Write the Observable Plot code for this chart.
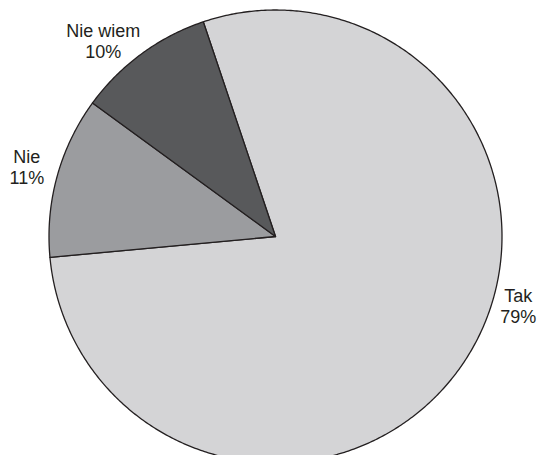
<!DOCTYPE html>
<html>
<head>
<meta charset="utf-8">
<script src="https://cdn.jsdelivr.net/npm/d3@7"></script>
<script src="https://cdn.jsdelivr.net/npm/@observablehq/plot@0.6"></script>
<style>
  html, body { margin: 0; padding: 0; background: #fff; overflow: hidden; }
  #chart svg { display: block; }
</style>
</head>
<body>
<div id="chart"></div>
<script>
// Data
const categories = ["Tak", "Nie", "Nie wiem"];
const values = [78.7, 11.5, 9.8];
const percentLabels = ["79%", "11%", "10%"];

// Style / layout (not data)
const colors = ["#d4d4d6", "#9b9c9f", "#58595b"];
const startDeg = -18.6;
// label centres in polar layout (degrees clockwise from top, radius in pie units)
const labelPolar = [
  {angle: 106.0, r: 1.115},
  {angle: 285.6, r: 1.140},
  {angle: 318.6, r: 1.150}
];

const pie = d3.pie().sort(null).value(d => d.value)
  .startAngle(startDeg * Math.PI / 180)
  .endAngle((startDeg + 360) * Math.PI / 180);
const arcs = pie(categories.map((c, i) => ({category: c, value: values[i]})));

const pts = [];
arcs.forEach(a => {
  const c = a.data.category;
  pts.push({category: c, x: 0, y: 0});
  const n = Math.max(2, Math.ceil((a.endAngle - a.startAngle) / (Math.PI / 360)));
  for (let k = 0; k <= n; k++) {
    const t = a.startAngle + (a.endAngle - a.startAngle) * k / n;
    pts.push({category: c, x: Math.sin(t), y: Math.cos(t)});
  }
  pts.push({category: c, x: 0, y: 0});
});

const labels = categories.map((c, i) => {
  const t = labelPolar[i].angle * Math.PI / 180;
  return {category: c, text: c + "\n" + percentLabels[i],
          x: labelPolar[i].r * Math.sin(t), y: labelPolar[i].r * Math.cos(t)};
});

const cx = 275, cy = 236, R = 226.5;
const plot = Plot.plot({
  width: 540,
  height: 455,
  margin: 0,
  x: {domain: [-1, 1], range: [cx - R, cx + R], axis: null},
  y: {domain: [-1, 1], range: [cy + R, cy - R], axis: null},
  color: {domain: categories, range: colors},
  style: {fontFamily: "'Liberation Sans', Arial, sans-serif", background: "#fff"},
  marks: [
    Plot.line(pts, {x: "x", y: "y", z: "category", fill: "category",
      stroke: "#231f20", strokeWidth: 1.3, strokeLinejoin: "round", curve: "linear"}),
    Plot.text(labels, {x: "x", y: "y", text: "text", fontSize: 18, lineHeight: 1.17,
      fill: "#231f20", textAnchor: "middle", lineAnchor: "middle"})
  ]
});
document.getElementById("chart").appendChild(plot);
</script>
</body>
</html>
